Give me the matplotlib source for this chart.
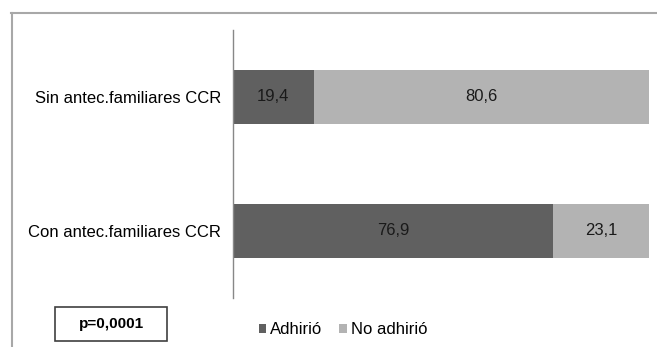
import matplotlib
matplotlib.use("Agg")
import matplotlib.pyplot as plt
from matplotlib.patches import Rectangle

plt.rcParams['font.family'] = ['Liberation Sans', 'DejaVu Sans']

categories = ["Con antec.familiares CCR", "Sin antec.familiares CCR"]
adhirio = [76.9, 19.4]
no_adhirio = [23.1, 80.6]
series_names = ["Adhirió", "No adhirió"]
colors = ["#606060", "#b3b3b3"]
p_text = "p=0,0001"

W, H = 657, 347
fig = plt.figure(figsize=(W / 100, H / 100), dpi=100)

# marco exterior (solo arriba e izquierda)
fig.add_artist(plt.Line2D([11.5 / W, 11.5 / W], [0, 1 - 12.5 / H], transform=fig.transFigure,
                          color="#a8a8a8", lw=1.5))
fig.add_artist(plt.Line2D([11 / W, 1], [1 - 12.5 / H, 1 - 12.5 / H], transform=fig.transFigure,
                          color="#a8a8a8", lw=1.5))

ax = fig.add_axes([233 / W, 1 - 298 / H, (649 - 233) / W, (298 - 30) / H])
y = range(len(categories))
b1 = ax.barh(y, adhirio, height=0.41, color=colors[0], label=series_names[0])
b2 = ax.barh(y, no_adhirio, left=adhirio, height=0.41, color=colors[1], label=series_names[1])
ax.bar_label(b1, labels=[f"{v:.1f}".replace(".", ",") for v in adhirio], label_type="center",
             fontsize=12, color="#1a1a1a")
ax.bar_label(b2, labels=[f"{v:.1f}".replace(".", ",") for v in no_adhirio], label_type="center",
             fontsize=12, color="#1a1a1a")

ax.set_xlim(0, 100)
ax.set_ylim(-0.5, 1.5)
ax.set_yticks(list(y))
ax.set_yticklabels(categories, fontsize=12)
ax.tick_params(axis="y", length=0, pad=8.5)
ax.set_xticks([])
for s in ["top", "right", "bottom"]:
    ax.spines[s].set_visible(False)
ax.spines["left"].set_color("#888888")
ax.spines["left"].set_linewidth(1)

ax.legend(loc="center", bbox_to_anchor=(343 / W, 1 - 330 / H), bbox_transform=fig.transFigure,
          ncol=2, frameon=False, fontsize=12, handlelength=0.45, handleheight=0.45,
          handletextpad=0.25, columnspacing=1.0)

fig.add_artist(Rectangle((55 / W, 1 - 341 / H), (167 - 55) / W, 34 / H, transform=fig.transFigure,
                         facecolor="white", edgecolor="#404040", lw=1.2))
fig.text(111 / W, 1 - 324 / H, p_text, ha="center", va="center", fontsize=11, fontweight="bold")

fig.savefig("out.png", dpi=100)
